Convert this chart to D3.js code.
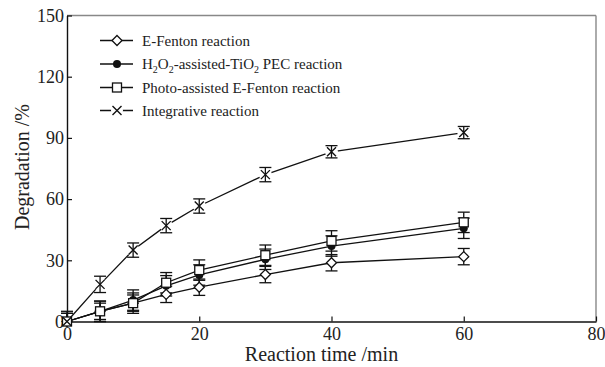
<!DOCTYPE html>
<html><head><meta charset="utf-8">
<script src="https://cdn.jsdelivr.net/npm/d3@7"></script>
<style>body{margin:0;background:#fff}svg{display:block}</style>
</head><body>
<svg id="c" width="605" height="367"></svg>
<script>
const times = [0, 5, 10, 15, 20, 30, 40, 60];
const eFenton = [0, 5, 9, 13.3, 16.8, 23, 28.8, 31.8];
const eFentonErr = [5, 4, 4, 4, 4, 4, 4, 4];
const tio2 = [0, 5, 10.5, 17.5, 22.8, 30.5, 37, 45.7];
const tio2Err = [4, 5, 5, 5, 5, 5, 5, 5];
const photo = [0, 5, 9, 19, 25.2, 32.5, 39.5, 48.6];
const photoErr = [4, 5, 5, 5, 5, 5, 5, 5];
const integ = [0, 18.2, 35, 47, 56.6, 72, 83.2, 92.6];
const integErr = [0, 4, 3.5, 3.5, 3.5, 3.5, 3, 3];
const xTicks = [0, 20, 40, 60, 80];
const yTicks = [0, 30, 60, 90, 120, 150];

const series = [
  {name: "E-Fenton", vals: eFenton, err: eFentonErr, marker: "diamond"},
  {name: "H2O2", vals: tio2, err: tio2Err, marker: "circle"},
  {name: "Photo", vals: photo, err: photoErr, marker: "square"},
  {name: "Integ", vals: integ, err: integErr, marker: "cross"}
];

const svg = d3.select("#c");
const L = 67, R = 596, T = 15.5, B = 321.5;
const x = d3.scaleLinear().domain([0, 80]).range([L, R]);
const y = d3.scaleLinear().domain([0, 150]).range([B, T]);
const font = "'Liberation Serif','Times New Roman',serif";

// frame
svg.append("line").attr("x1", L).attr("x2", R).attr("y1", T).attr("y2", T).attr("stroke", "#888").attr("stroke-width", 1.4);
svg.append("line").attr("x1", R).attr("x2", R).attr("y1", T).attr("y2", B).attr("stroke", "#888").attr("stroke-width", 1.4);

const xAxis = svg.append("g").attr("transform", `translate(0,${B})`)
  .call(d3.axisBottom(x).tickValues(xTicks).tickSizeInner(-5).tickSizeOuter(0).tickPadding(10));
const yAxis = svg.append("g").attr("transform", `translate(${L},0)`)
  .call(d3.axisLeft(y).tickValues(yTicks).tickSizeInner(-5).tickSizeOuter(0).tickPadding(3));
[xAxis, yAxis].forEach(g => {
  g.select(".domain").attr("stroke", "#111").attr("stroke-width", 1.4);
  g.selectAll(".tick line").attr("stroke", "#111").attr("stroke-width", 1.2);
  g.selectAll(".tick text").attr("font-family", font).attr("font-size", 18).attr("fill", "#222");
});
xAxis.selectAll(".tick text").attr("dy", "0.45em");

svg.append("text").attr("x", (L + R) / 2 - 10).attr("y", 361).attr("text-anchor", "middle")
  .attr("font-family", font).attr("font-size", 20).attr("fill", "#222").text("Reaction time /min");
svg.append("text").attr("transform", "translate(29,167) rotate(-90)").attr("text-anchor", "middle")
  .attr("font-family", font).attr("font-size", 20).attr("fill", "#222").text("Degradation /%");

function drawMarker(g, type, cx, cy, halo) {
  if (type === "diamond") {
    g.append("path").attr("d", `M${cx},${cy-5}L${cx+5},${cy}L${cx},${cy+5}L${cx-5},${cy}Z`)
      .attr("fill", "#fff").attr("stroke", "#111").attr("stroke-width", 1.3);
  } else if (type === "circle") {
    g.append("circle").attr("cx", cx).attr("cy", cy).attr("r", 4).attr("fill", "#111");
  } else if (type === "square") {
    g.append("rect").attr("x", cx-4.5).attr("y", cy-4.5).attr("width", 9).attr("height", 9)
      .attr("fill", "#fff").attr("stroke", "#111").attr("stroke-width", 1.3);
  } else {
    if (halo) g.append("circle").attr("cx", cx).attr("cy", cy).attr("r", 6).attr("fill", "#fff");
    g.append("path").attr("d", `M${cx-4.5},${cy-4.5}L${cx+4.5},${cy+4.5}M${cx-4.5},${cy+4.5}L${cx+4.5},${cy-4.5}`)
      .attr("stroke", "#111").attr("stroke-width", 1.4).attr("fill", "none");
  }
}

const line = d3.line().x(d => x(d[0])).y(d => y(d[1]));
const plot = svg.append("g");
series.forEach(s => {
  const pts = times.map((t, i) => [t, s.vals[i]]);
  plot.append("path").attr("d", line(pts)).attr("fill", "none").attr("stroke", "#111").attr("stroke-width", 1.3);
});
series.forEach(s => {
  times.forEach((t, i) => {
    if (s.marker === "cross" && s.vals[i] > 0) {
      plot.append("circle").attr("cx", x(t)).attr("cy", y(s.vals[i])).attr("r", 6.5).attr("fill", "#fff");
    }
  });
});
series.forEach(s => {
  times.forEach((t, i) => {
    const e = s.err[i];
    if (e > 0) {
      const cx = x(t), y1 = y(s.vals[i] + e), y2 = y(Math.max(s.vals[i] - e, s.vals[i] === 0 ? 0 : -10));
      const g = plot.append("g").attr("stroke", "#111").attr("stroke-width", 1.3);
      g.append("line").attr("x1", cx).attr("x2", cx).attr("y1", y1).attr("y2", y2);
      g.append("line").attr("x1", cx-6).attr("x2", cx+6).attr("y1", y1).attr("y2", y1);
      if (s.vals[i] > 0) g.append("line").attr("x1", cx-6).attr("x2", cx+6).attr("y1", y2).attr("y2", y2);
    }
  });
});
series.forEach(s => {
  times.forEach((t, i) => drawMarker(plot, s.marker, x(t), y(s.vals[i]), false));
});

// legend
const leg = svg.append("g");
const rows = [40.5, 64, 87.5, 110.5];
series.forEach((s, i) => {
  const ry = rows[i];
  leg.append("line").attr("x1", 100).attr("x2", 133).attr("y1", ry).attr("y2", ry).attr("stroke", "#111").attr("stroke-width", 1.3);
  drawMarker(leg, s.marker, 117, ry, true);
});
function legText(i) {
  return leg.append("text").attr("x", 142).attr("y", rows[i] + 5).attr("font-family", font).attr("font-size", 15).attr("fill", "#222");
}
legText(0).text("E-Fenton reaction");
const t1 = legText(1);
t1.append("tspan").text("H");
t1.append("tspan").attr("font-size", 10).attr("dy", 4).text("2");
t1.append("tspan").attr("dy", -4).text("O");
t1.append("tspan").attr("font-size", 10).attr("dy", 4).text("2");
t1.append("tspan").attr("dy", -4).text("-assisted-TiO");
t1.append("tspan").attr("font-size", 10).attr("dy", 4).text("2");
t1.append("tspan").attr("dy", -4).text(" PEC reaction");
legText(2).text("Photo-assisted E-Fenton reaction");
legText(3).text("Integrative reaction");
</script>
</body></html>
